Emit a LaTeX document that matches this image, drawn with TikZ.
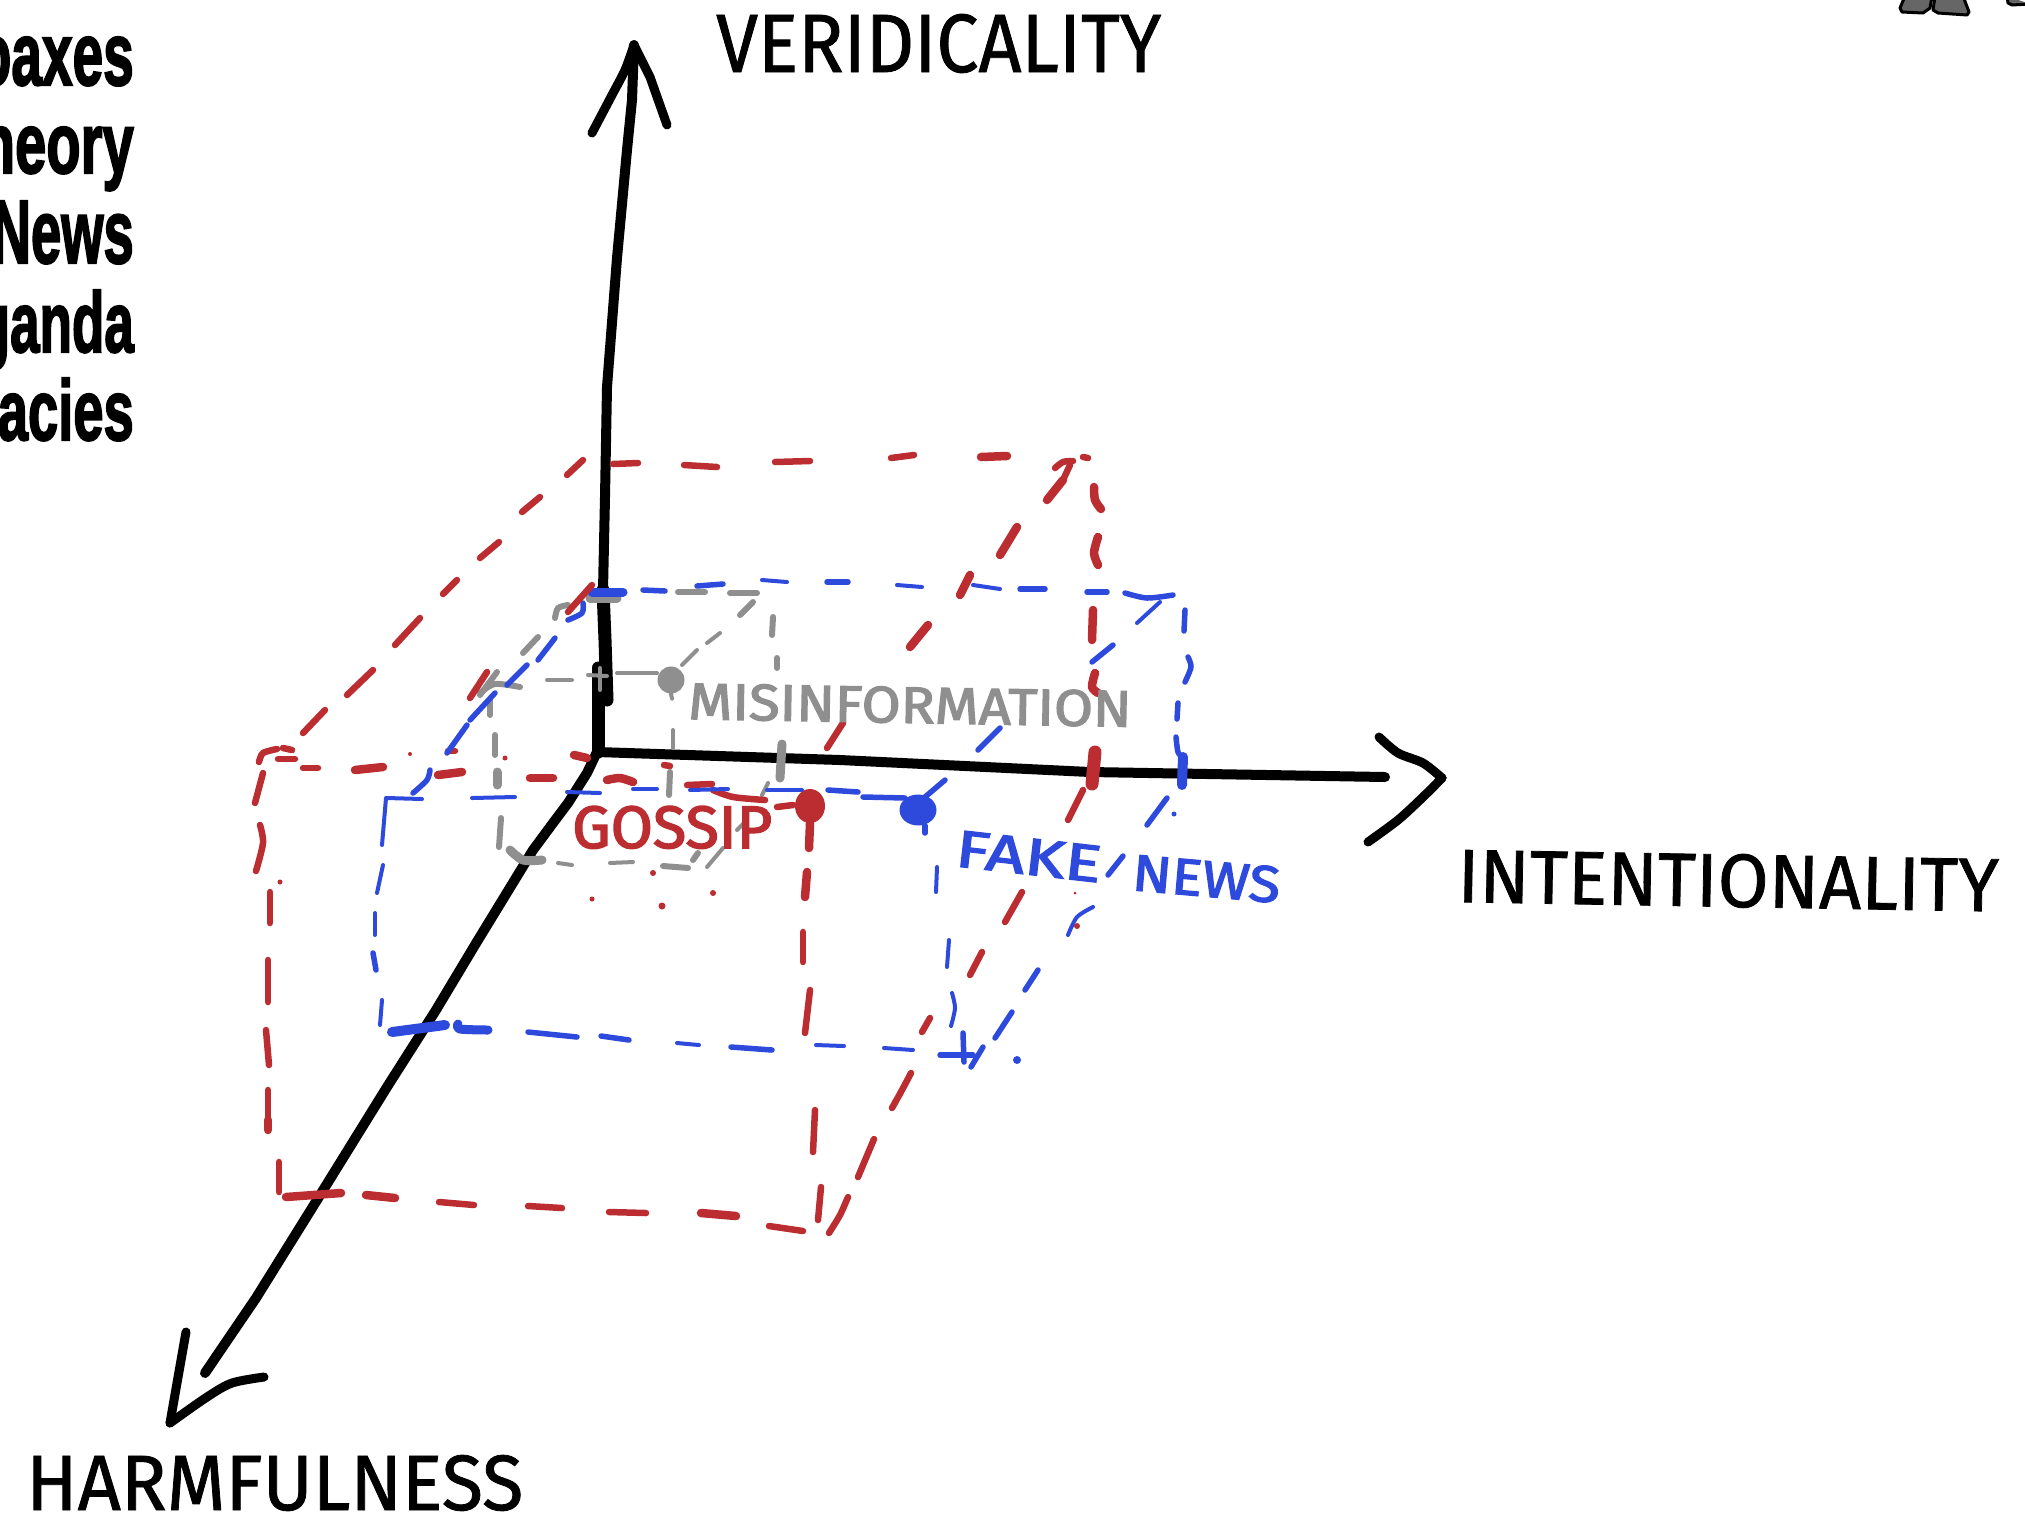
\documentclass[tikz,border=0pt]{standalone}
\usepackage{graphicx}
\usepackage{fontspec}
\setmainfont{Liberation Sans}
\newfontfamily\antonfont[FakeBold=2.5]{Liberation Sans}
\newfontfamily\handfont[FakeBold=1]{Fira Sans}
\newfontfamily\handbold[FakeBold=2.5]{Fira Sans}
\definecolor{penred}{HTML}{BB2D30}
\definecolor{penblue}{HTML}{2E4ADC}
\definecolor{pengray}{HTML}{8F8F8F}
\tikzset{
  ink/.style={line cap=round,line join=round},
  ax/.style={ink,draw=black,line width=10pt},
  hd/.style={ink,draw=black,line width=9pt},
  rd/.style={ink,draw=penred,line width=6.5pt},
  rdthick/.style={ink,draw=penred,line width=8.5pt},
  bl/.style={ink,draw=penblue,line width=5.5pt},
  blthin/.style={ink,draw=penblue,line width=4pt},
  blthick/.style={ink,draw=penblue,line width=9pt},
  gr/.style={ink,draw=pengray,line width=6pt},
  grthin/.style={ink,draw=pengray,line width=4pt},
  grthick/.style={ink,draw=pengray,line width=9pt},
  dotmark/.style={ellipse,inner sep=0pt,minimum width=#1},
  word/.style={inner sep=0pt,anchor=base east,text=black},
  hand/.style={inner sep=0pt,anchor=base west},
  foot/.style={ink,draw=black,line width=3pt,fill=black!60},
}
\usetikzlibrary{shapes.geometric}
\newcommand\D[2]{\draw[#1] plot[smooth] coordinates {#2};}
\newcommand\hw[3]{\resizebox{#1pt}{#2pt}{#3}}
\begin{document}
\begin{tikzpicture}[x=1pt,y=-1pt]
\useasboundingbox (0,0) rectangle (2025,1519);
% clipped word column
\node[word] (w1) at (134,85)  {\hw{156}{48}{\antonfont\bfseries oaxes}};
\node[word] (w2) at (134,173) {\hw{153}{62}{\antonfont\bfseries heory}};
\node[word] (w3) at (134,263) {\hw{142}{62}{\antonfont\bfseries News}};
\node[word] (w4) at (134,352) {\hw{156}{62}{\antonfont\bfseries ganda}};
\node[word] (w5) at (134,440) {\hw{136}{62}{\antonfont\bfseries acies}};
% cropped figure at top right
\draw[foot] (1905,-4) -- (1900,8) -- (1902,12) -- (1923,13) -- (1930,8) -- (1932,-4);
\draw[foot] (1935,-4) -- (1933,10) -- (1938,13) -- (1967,15) -- (1969,12) -- (1963,-4);
\draw[foot] (2007,-4) -- (2008,3) -- (2012,5) -- (2030,4);
% axes
\coordinate (O) at (597,752);
\coordinate (Vtip) at (634,45);
\coordinate (Itip) at (1385,777);
\coordinate (Htip) at (205,1373);
\coordinate (Vl) at (592,133);
\coordinate (Vr) at (667,125);
\coordinate (Iu) at (1379,737);
\coordinate (Id) at (1368,842);
\coordinate (Ihead) at (1442,778);
\coordinate (Hu) at (186,1332);
\coordinate (Hr) at (264,1377);
\coordinate (Hhead) at (170,1423);
\draw[ax] (Vtip) -- (632,100) -- (627,150) -- (617,258) -- (607,387) -- (605,497) -- (603,590);
\draw[ink,line width=13pt] (603,590) -- (605,640) -- (607,700);
\draw[ink,line width=13pt] (598,668) -- (598,752);
\draw[ax] (O) -- (840,760) -- (1090,772) -- (Itip);
\draw[ax] (O) -- (587,773) -- (568,803) -- (553,823) -- (533,850) -- (478,940) -- (436,1010) -- (387,1087) -- (317,1200) -- (256,1298) -- (Htip);
\draw[hd] plot[smooth] coordinates {(Vl) (612,95) (625,70) (Vtip)};
\draw[hd] (Vtip) -- (650,77) -- (Vr);
\draw[hd] plot[smooth] coordinates {(Iu) (1398,753) (1423,763) (Ihead)};
\draw[hd] plot[smooth] coordinates {(Ihead) (1423,797) (1398,820) (Id)};
\draw[hd] (Hu) -- (177,1383) -- (Hhead);
\draw[hd] plot[smooth] coordinates {(Hhead) (207,1397) (232,1383) (Hr)};
% gray box
\D{grthick}{(590,598) (617,598)}
\D{gr}{(678,592) (705,592)}
\D{gr}{(730,593) (757,593)}
\D{gr}{(753,602) (740,615)}
\D{grthin}{(720,633) (707,643)}
\D{grthin}{(697,650) (682,665)}
\D{grthin}{(617,673) (657,673)}
\D{gr}{(555,618) (558,608) (568,605)}
\D{gr}{(538,637) (523,653)}
\D{gr}{(497,672) (480,695)}
\D{gr}{(480,693) (495,684) (520,687)}
\D{gr}{(490,700) (490,715)}
\D{grthin}{(547,680) (572,680)}
\D{grthin}{(588,675) (607,676)}
\D{grthin}{(600,668) (600,690)}
\D{gr}{(773,617) (772,635)}
\D{gr}{(777,658) (777,668)}
\D{grthin}{(673,730) (673,748)}
\D{grthick}{(782,744) (780,778)}
\D{gr}{(670,772) (669,795)}
\D{grthin}{(768,783) (762,795)}
\D{gr}{(495,735) (495,755)}
\D{grthick}{(497,772) (497,785)}
\D{gr}{(501,818) (499,847)}
\D{grthick}{(510,850) (523,860) (542,860)}
\D{grthin}{(558,863) (572,865)}
\D{grthin}{(610,863) (633,862)}
\D{gr}{(663,866) (688,868)}
\D{grthin}{(707,867) (723,848)}
\D{gr}{(693,860) (698,853)}
\D{grthin}{(737,830) (745,822)}
\node[dotmark=27pt,minimum height=27pt,fill=pengray] (dotgray) at (671,680) {};
\draw[grthin] (dotgray.south) -- ++(1,5);
% red box
\D{rd}{(583,460) (567,475)}
\D{rd}{(540,497) (522,512)}
\D{rd}{(499,542) (480,558)}
\D{rd}{(457,580) (443,594)}
\D{rd}{(420,618) (395,645)}
\D{rd}{(373,670) (347,695)}
\D{rd}{(325,710) (303,733)}
\D{rd}{(259,762) (263,753) (277,749)}
\D{rd}{(283,748) (292,750)}
\D{rd}{(278,759) (295,759)}
\D{rd}{(303,768) (318,768)}
\D{rdthick}{(355,770) (383,767)}
\D{rdthick}{(438,775) (462,772)}
\D{rdthick}{(530,778) (553,778)}
\D{rdthick}{(574,755) (587,758)}
\D{rdthick}{(607,780) (620,778) (633,782)}
\D{rd}{(687,785) (712,784)}
\D{rd}{(713,790) (733,797) (765,800)}
\D{rd}{(777,807) (793,805)}
\node[dotmark=30pt,minimum height=34pt,fill=penred] (dotred) at (810,806) {};
\draw[rdthick] (dotred.south) -- (809,848);
\D{rdthick}{(807,872) (805,897)}
\D{rd}{(803,932) (803,962)}
\D{rd}{(810,990) (805,1033)}
\D{rd}{(815,1110) (813,1152)}
\D{rd}{(821,1187) (818,1220)}
\D{rd}{(263,773) (255,803)}
\D{rd}{(260,825) (263,843) (256,871)}
\D{rd}{(270,892) (270,923)}
\D{rd}{(268,960) (268,1002)}
\D{rd}{(266,1030) (269,1065)}
\D{rd}{(268,1090) (268,1122)}
\D{rdthick}{(268,1120) (268,1130)}
\D{rd}{(279,1162) (279,1192)}
\D{rdthick}{(286,1197) (341,1193)}
\D{rdthick}{(366,1195) (395,1198)}
\D{rd}{(439,1202) (474,1205)}
\D{rd}{(528,1206) (562,1208)}
\D{rd}{(609,1212) (646,1213)}
\D{rdthick}{(701,1213) (736,1216)}
\D{rd}{(769,1226) (803,1231)}
\D{rd}{(848,1197) (840,1215) (829,1233)}
\D{rd}{(874,1139) (858,1177)}
\D{rd}{(911,1073) (902,1090) (892,1108)}
\D{rd}{(930,1018) (922,1032)}
\D{rd}{(982,952) (970,975)}
\D{rd}{(1022,892) (1005,922)}
\D{rd}{(1083,790) (1068,820)}
\draw[ink,draw=penred,line width=13pt] (1095,752) -- (1092,784);
\D{rdthick}{(1095,673) (1092,687) (1098,693)}
\D{rdthick}{(1093,610) (1092,640)}
\D{rdthick}{(1094,487) (1095,500) (1101,509)}
\D{rdthick}{(1098,537) (1094,553) (1098,565)}
\D{rd}{(843,723) (827,748)}
\D{rdthick}{(928,625) (910,647)}
\D{rdthick}{(970,575) (960,595)}
\D{rdthick}{(1017,527) (1000,555)}
\D{rdthick}{(1063,480) (1047,500)}
\D{rd}{(1055,468) (1063,462) (1073,461)}
\D{rd}{(1070,465) (1063,480)}
\D{rd}{(1083,457) (1088,458)}
\D{rd}{(613,464) (638,463)}
\D{rd}{(684,465) (717,467)}
\D{rd}{(775,462) (810,461)}
\D{rd}{(891,458) (914,455)}
\D{rdthick}{(981,457) (1007,456)}
\D{rd}{(487,672) (470,698)}
\D{rd}{(448,751) (455,751)}
\D{rd}{(664,765) (670,766)}
\fill[penred] (505,758) circle (2.5) (653,873) circle (3) (592,899) circle (2.5) (662,906) circle (3.5) (713,893) circle (3) (1075,893) circle (1.5) (1077,926) circle (3) (280,882) circle (2.5) (410,754) circle (2);
% blue box
\D{blthick}{(592,592) (623,592)}
\D{bl}{(643,590) (665,591)}
\D{bl}{(697,586) (723,584)}
\D{blthin}{(762,580) (787,582)}
\D{bl}{(827,582) (848,582)}
\D{blthin}{(897,585) (922,587)}
\D{blthin}{(973,585) (1000,589)}
\D{bl}{(1020,589) (1045,589)}
\D{bl}{(1087,592) (1107,592)}
\D{bl}{(1125,593) (1147,598) (1173,595)}
\D{blthin}{(1160,602) (1137,623)}
\D{bl}{(1185,610) (1184,631)}
\D{bl}{(1188,657) (1191,667) (1185,682)}
\D{bl}{(1178,703) (1177,719)}
\D{bl}{(1176,737) (1178,752) (1183,758)}
\draw[ink,draw=penblue,line width=10pt] (1183,757) -- (1182,785);
\D{bl}{(1113,645) (1092,662)}
\D{bl}{(1000,728) (978,750)}
\D{bl}{(1167,798) (1147,825)}
\D{blthin}{(1093,907) (1077,917) (1068,935)}
\D{bl}{(1038,970) (1025,990)}
\D{bl}{(1012,1012) (995,1038)}
\D{bl}{(983,1047) (971,1067)}
\D{blthin}{(472,798) (515,797)}
\D{blthin}{(567,792) (600,793)}
\D{blthin}{(633,789) (657,789)}
\D{blthin}{(690,790) (728,789)}
\D{blthin}{(767,790) (802,790)}
\D{bl}{(828,790) (858,792)}
\D{bl}{(863,797) (905,798)}
\node[dotmark=37pt,minimum height=31pt,fill=penblue] (dotblue) at (918,810) {};
\draw[bl] (dotblue.south) ++(7,0) -- (925,833);
\draw[bl] (925,797) -- (945,780);
\D{blthin}{(387,798) (422,799)}
\D{blthin}{(386,798) (382,845)}
\D{blthin}{(383,865) (377,893)}
\D{blthin}{(375,913) (375,935)}
\D{bl}{(373,953) (376,970)}
\D{blthin}{(382,1000) (380,1025)}
\D{bl}{(555,638) (538,660)}
\D{bl}{(527,665) (507,685)}
\D{bl}{(495,693) (470,720)}
\D{bl}{(467,725) (447,753)}
\D{bl}{(430,770) (427,780) (413,793)}
\D{bl}{(583,603) (582,613) (568,620)}
\D{rd}{(592,585) (568,612)}
\draw[ink,draw=penblue,line width=10pt] (392,1032) -- (445,1025);
\D{blthick}{(458,1024) (460,1029) (488,1030)}
\D{bl}{(528,1032) (577,1037)}
\D{bl}{(601,1036) (629,1040)}
\D{blthin}{(677,1043) (699,1045)}
\D{bl}{(731,1047) (772,1050)}
\D{blthin}{(816,1045) (844,1046)}
\D{blthin}{(884,1048) (913,1050)}
\D{bl}{(940,1055) (973,1055)}
\D{blthin}{(937,867) (936,892)}
\D{blthin}{(949,940) (947,967)}
\D{blthin}{(952,993) (955,1008) (951,1026)}
\D{bl}{(963,1033) (964,1062)}
\fill[penblue] (1017,1060) circle (4) (1174,814) circle (2.5);
% labels
\node[hand] (lv) at (716,72) {\hw{445}{58}{\handfont VERIDICALITY}};
\node[hand,rotate=-1] (li) at (1457,902) {\hw{541}{53}{\handfont INTENTIONALITY}};
\node[hand] (lh) at (26,1510) {\hw{497}{55}{\handfont HARMFULNESS}};
\node[hand,rotate=-1,text=pengray] (lm) at (688,719) {\hw{443}{36}{\handbold MISINFORMATION}};
\node[hand,text=penred] (lg) at (572,848) {\hw{200}{42}{\handbold GOSSIP}};
\node[hand,rotate=-6.5,text=penblue] (lf) at (954,866) {\hw{146}{36}{\handbold FAKE}};
\node[hand,rotate=-5,text=penblue] (ln) at (1131,890) {\hw{148}{36}{\handbold NEWS}};
\D{bl}{(1123,856) (1108,875)}
\end{tikzpicture}
\end{document}
